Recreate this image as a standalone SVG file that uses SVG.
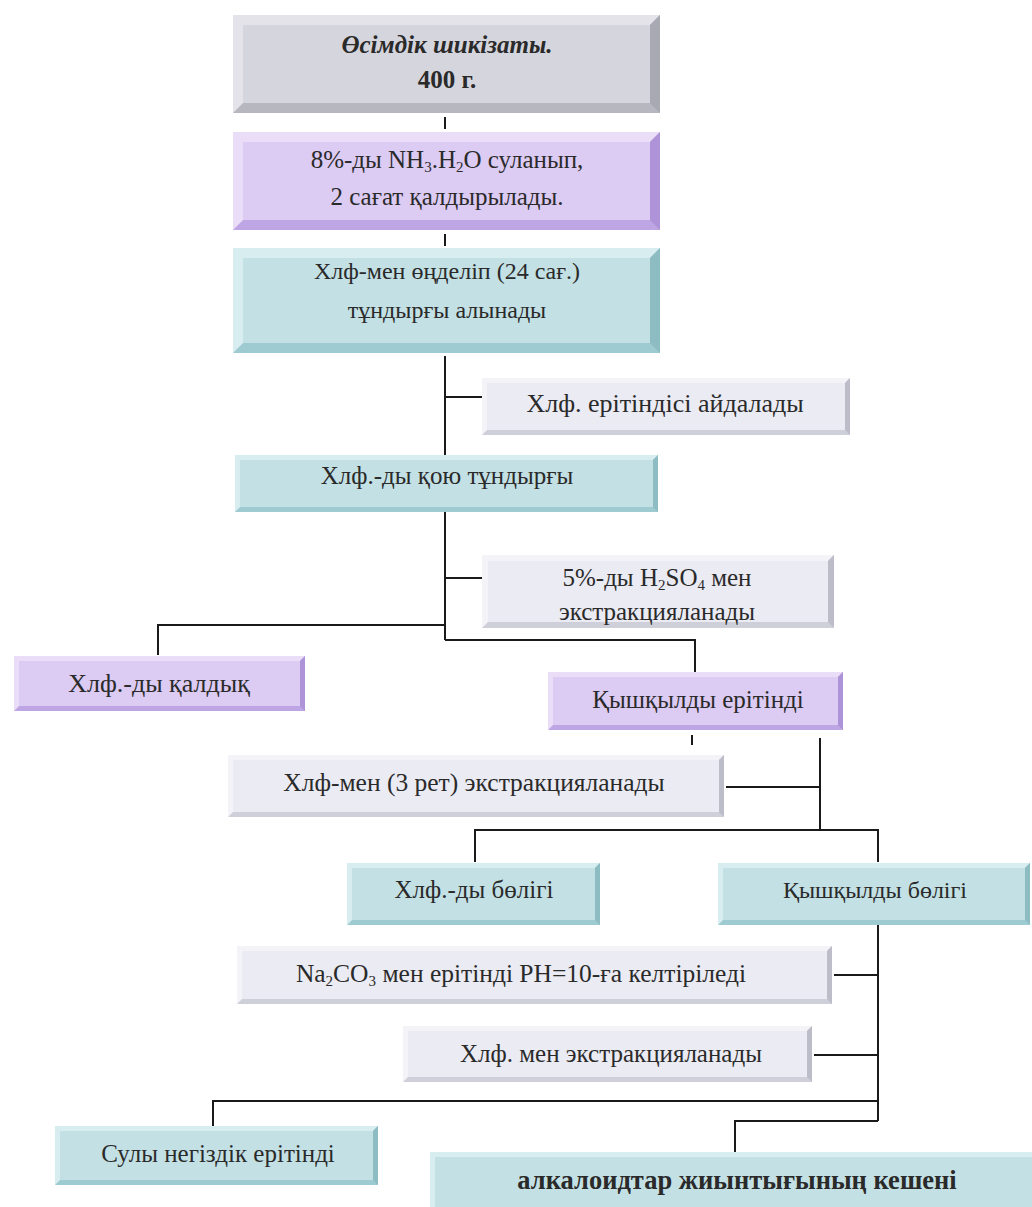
<svg xmlns="http://www.w3.org/2000/svg" width="1032" height="1207" viewBox="0 0 1032 1207">
<style>
.tx{font-family:"Liberation Serif","Times New Roman",serif;font-size:25px;fill:#2a2a2a;text-anchor:middle}
.s24{font-size:24px}
.b{font-weight:bold}
.bi{font-weight:bold;font-style:italic}
.g .d{fill:#b7b7c0}.g .l{fill:#e3e3e9}.g .r{fill:#a9a9b4}.g .f{fill:#d5d5dd}
.p .d{fill:#bea5e3}.p .l{fill:#e9ddf8}.p .r{fill:#ae93d8}.p .f{fill:#dccbf3}
.t .d{fill:#9ecbd1}.t .l{fill:#d7edef}.t .r{fill:#8dbcc3}.t .f{fill:#c3e1e5}
.w .d{fill:#cfcfda}.w .l{fill:#f4f4f8}.w .r{fill:#bdbdca}.w .f{fill:#ebebf3}
.cn{fill:none;stroke:#1a1a1a;stroke-width:2}
</style>
<rect width="1032" height="1207" fill="#ffffff"/>
<g id="connectors" class="cn">
<path d="M445 117V129"/>
<path d="M445 234V246"/>
<path d="M445 356V455M445 397H482"/>
<path d="M445 512V640M445 578H482M445 625H158V655M445 640H695V672"/>
<path d="M692 735V745"/>
<path d="M820 738V830M820 787H726M475 862V830H878V862"/>
<path d="M878 924V1121M878 975H834M878 1055H814M878 1101H213V1126M878 1121H735V1152"/>
</g>
<g id="n1" class="g">
<rect class="d" x="233" y="15" width="427" height="98"/>
<polygon class="l" points="233,15 660,15 650,25 243,25 243,103 233,113"/>
<polygon class="r" points="660,15 660,113 650,103 650,25"/>
<rect class="f" x="243" y="25" width="407" height="78"/>
<text class="tx bi" x="447" y="53">Өсімдік шикізаты.</text>
<text class="tx b" x="447" y="88">400 г.</text>
</g>
<g id="n2" class="p">
<rect class="d" x="233" y="132" width="427" height="98"/>
<polygon class="l" points="233,132 660,132 650,142 243,142 243,220 233,230"/>
<polygon class="r" points="660,132 660,230 650,220 650,142"/>
<rect class="f" x="243" y="142" width="407" height="78"/>
<text class="tx" x="447" y="168">8%-ды NH<tspan font-size="15" dy="4">3</tspan><tspan dy="-4">.H</tspan><tspan font-size="15" dy="4">2</tspan><tspan dy="-4">O суланып,</tspan></text>
<text class="tx" x="447" y="205">2 сағат қалдырылады.</text>
</g>
<g id="n3" class="t">
<rect class="d" x="233" y="248" width="427" height="105"/>
<polygon class="l" points="233,248 660,248 650,258 243,258 243,343 233,353"/>
<polygon class="r" points="660,248 660,353 650,343 650,258"/>
<rect class="f" x="243" y="258" width="407" height="85"/>
<text class="tx s24" x="447" y="279">Хлф-мен өңделіп (24 сағ.)</text>
<text class="tx s24" x="447" y="318">тұндырғы алынады</text>
</g>
<g id="n4" class="w">
<rect class="d" x="482" y="378" width="368" height="57"/>
<polygon class="l" points="482,378 850,378 845,383 487,383 487,430 482,435"/>
<polygon class="r" points="850,378 850,435 845,430 845,383"/>
<rect class="f" x="487" y="383" width="358" height="47"/>
<text class="tx" x="665" y="412" style="font-size:26px">Хлф. ерітіндісі айдалады</text>
</g>
<g id="n5" class="t">
<rect class="d" x="235" y="455" width="423" height="57"/>
<polygon class="l" points="235,455 658,455 653,460 240,460 240,507 235,512"/>
<polygon class="r" points="658,455 658,512 653,507 653,460"/>
<rect class="f" x="240" y="460" width="413" height="47"/>
<text class="tx" x="447" y="484">Хлф.-ды қою тұндырғы</text>
</g>
<g id="n6" class="w">
<rect class="d" x="482" y="555" width="352" height="73"/>
<polygon class="l" points="482,555 834,555 828,561 488,561 488,622 482,628"/>
<polygon class="r" points="834,555 834,628 828,622 828,561"/>
<rect class="f" x="488" y="561" width="340" height="61"/>
<text class="tx" x="657" y="586">5%-ды H<tspan font-size="15" dy="4">2</tspan><tspan dy="-4">SO</tspan><tspan font-size="15" dy="4">4</tspan><tspan dy="-4"> мен</tspan></text>
<text class="tx" x="657" y="620">экстракцияланады</text>
</g>
<g id="n7" class="p">
<rect class="d" x="14" y="656" width="291" height="55"/>
<polygon class="l" points="14,656 305,656 300,661 19,661 19,706 14,711"/>
<polygon class="r" points="305,656 305,711 300,706 300,661"/>
<rect class="f" x="19" y="661" width="281" height="45"/>
<text class="tx" x="159" y="692" style="font-size:26px">Хлф.-ды қалдық</text>
</g>
<g id="n8" class="p">
<rect class="d" x="548" y="672" width="295" height="58"/>
<polygon class="l" points="548,672 843,672 838,677 553,677 553,725 548,730"/>
<polygon class="r" points="843,672 843,730 838,725 838,677"/>
<rect class="f" x="553" y="677" width="285" height="48"/>
<text class="tx" x="698" y="708">Қышқылды ерітінді</text>
</g>
<g id="n9" class="w">
<rect class="d" x="228" y="755" width="496" height="62"/>
<polygon class="l" points="228,755 724,755 719,760 233,760 233,812 228,817"/>
<polygon class="r" points="724,755 724,817 719,812 719,760"/>
<rect class="f" x="233" y="760" width="486" height="52"/>
<text class="tx" x="474" y="791" style="font-size:25.5px">Хлф-мен (3 рет) экстракцияланады</text>
</g>
<g id="n10" class="t">
<rect class="d" x="347" y="863" width="253" height="62"/>
<polygon class="l" points="347,863 600,863 595,868 352,868 352,920 347,925"/>
<polygon class="r" points="600,863 600,925 595,920 595,868"/>
<rect class="f" x="352" y="868" width="243" height="52"/>
<text class="tx" x="474" y="898">Хлф.-ды бөлігі</text>
</g>
<g id="n11" class="t">
<rect class="d" x="718" y="863" width="312" height="62"/>
<polygon class="l" points="718,863 1030,863 1025,868 723,868 723,920 718,925"/>
<polygon class="r" points="1030,863 1030,925 1025,920 1025,868"/>
<rect class="f" x="723" y="868" width="302" height="52"/>
<text class="tx s24" x="875" y="898">Қышқылды бөлігі</text>
</g>
<g id="n12" class="w">
<rect class="d" x="237" y="946" width="595" height="58"/>
<polygon class="l" points="237,946 832,946 827,951 242,951 242,999 237,1004"/>
<polygon class="r" points="832,946 832,1004 827,999 827,951"/>
<rect class="f" x="242" y="951" width="585" height="48"/>
<text class="tx" x="521" y="982" style="font-size:25.5px">Na<tspan font-size="15" dy="4">2</tspan><tspan dy="-4">CO</tspan><tspan font-size="15" dy="4">3</tspan><tspan dy="-4"> мен ерітінді PH=10-ға келтіріледі</tspan></text>
</g>
<g id="n13" class="w">
<rect class="d" x="403" y="1026" width="409" height="56"/>
<polygon class="l" points="403,1026 812,1026 807,1031 408,1031 408,1077 403,1082"/>
<polygon class="r" points="812,1026 812,1082 807,1077 807,1031"/>
<rect class="f" x="408" y="1031" width="399" height="46"/>
<text class="tx" x="611" y="1062">Хлф. мен  экстракцияланады</text>
</g>
<g id="n14" class="t">
<rect class="d" x="55" y="1126" width="323" height="59"/>
<polygon class="l" points="55,1126 378,1126 373,1131 60,1131 60,1180 55,1185"/>
<polygon class="r" points="378,1126 378,1185 373,1180 373,1131"/>
<rect class="f" x="60" y="1131" width="313" height="49"/>
<text class="tx" x="218" y="1162">Сулы негіздік ерітінді</text>
</g>
<g id="n15" class="t">
<rect class="d" x="430" y="1152" width="610" height="70"/>
<polygon class="l" points="430,1152 1040,1152 1035,1157 435,1157 435,1217 430,1222"/>
<rect class="f" x="435" y="1157" width="600" height="60"/>
<text class="tx b" x="737" y="1189" style="font-size:26.5px">алкалоидтар жиынтығының кешені</text>
</g>
</svg>
